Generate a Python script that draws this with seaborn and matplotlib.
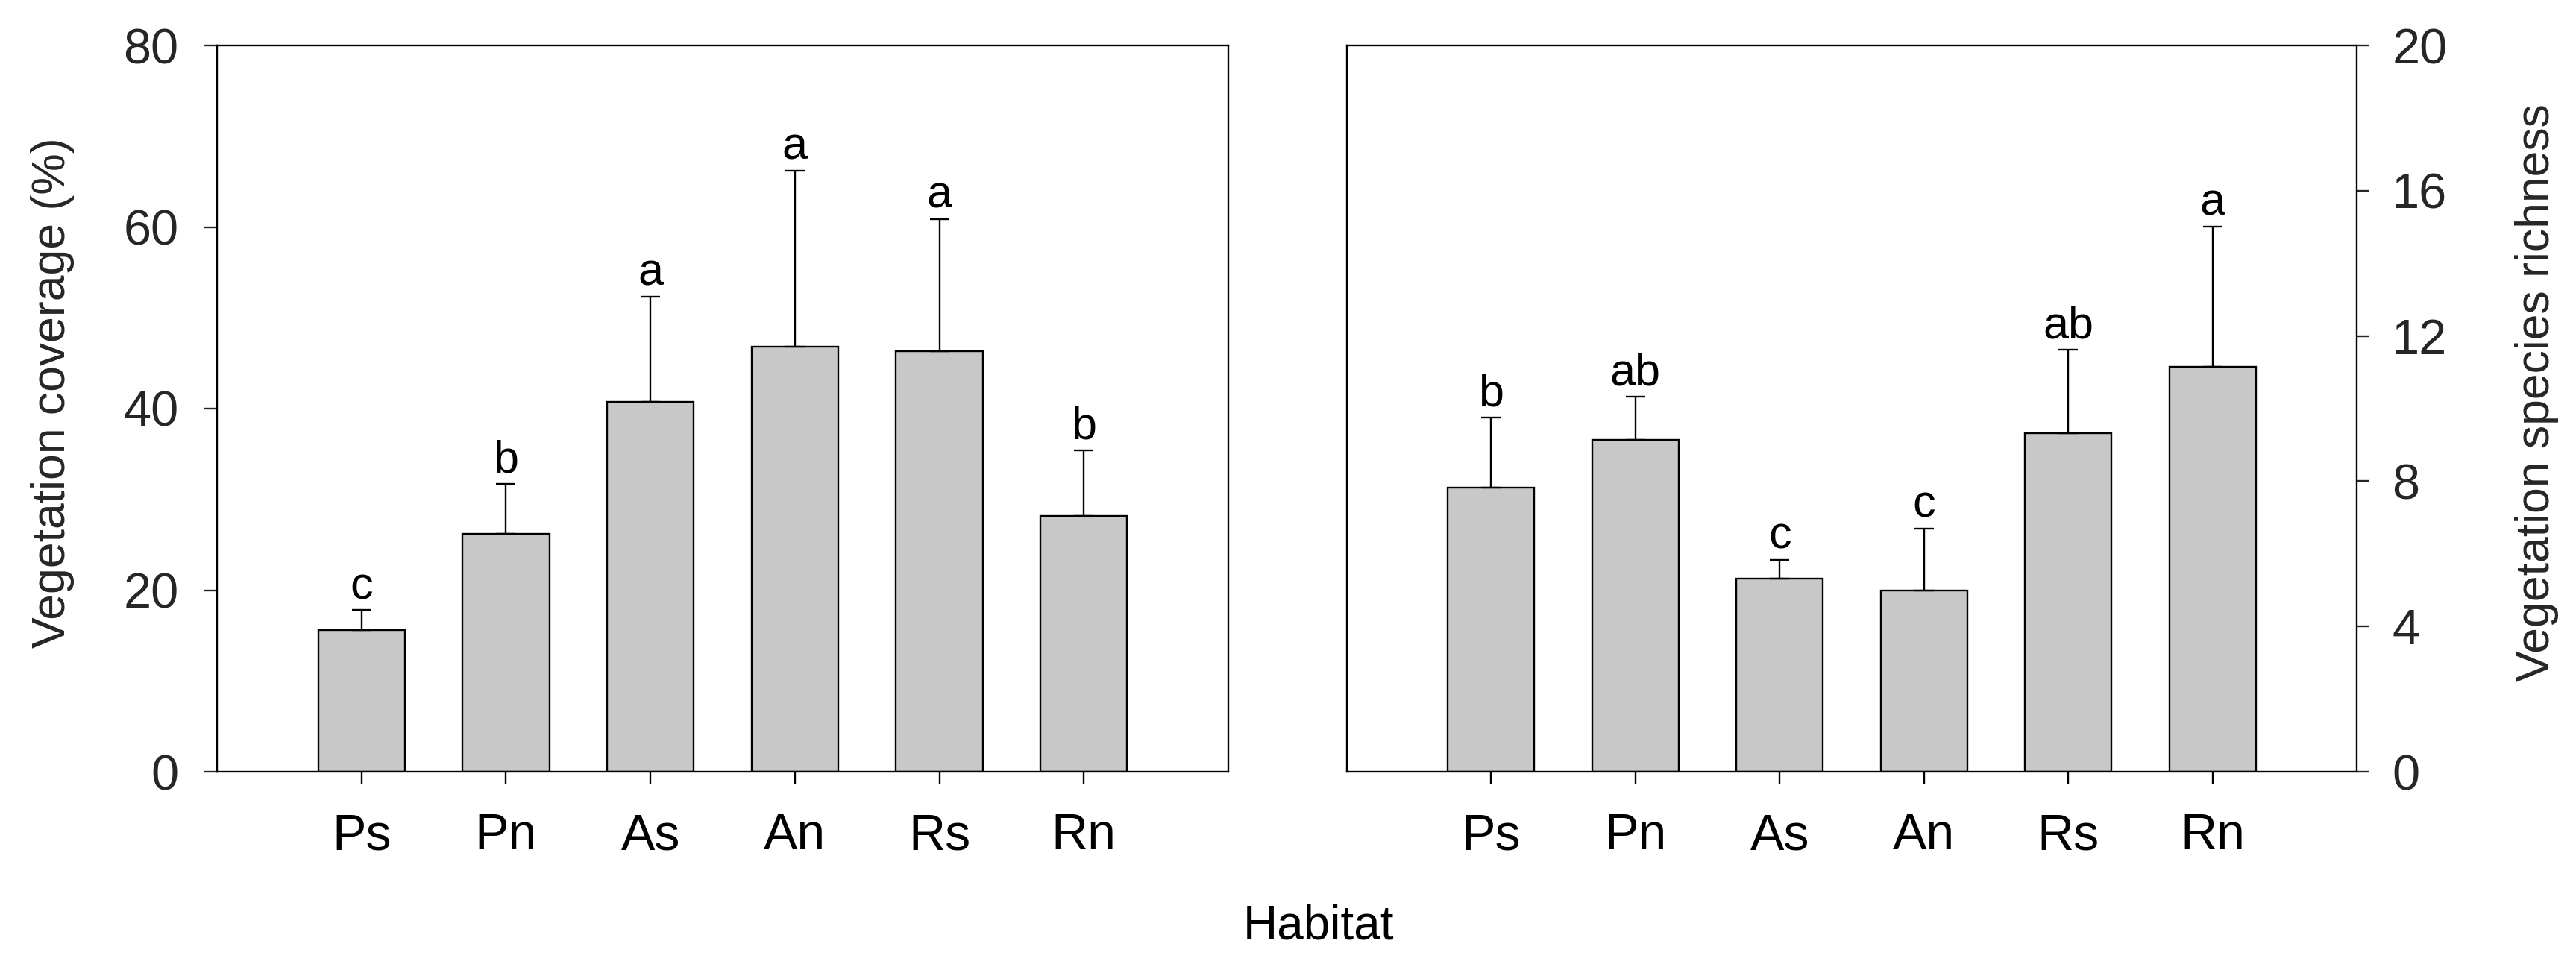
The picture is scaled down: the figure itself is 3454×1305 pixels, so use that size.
import matplotlib
matplotlib.use("Agg")
import matplotlib.pyplot as plt
import seaborn as sns
import numpy as np
import pandas as pd

# ---- data ----
habitats = ["Ps", "Pn", "As", "An", "Rs", "Rn"]
coverage_mean = [15.6, 26.2, 40.7, 46.8, 46.3, 28.2]
coverage_se = [2.2, 5.5, 11.6, 19.4, 14.6, 7.2]
coverage_letters = ["c", "b", "a", "a", "a", "b"]
richness_mean = [7.83, 9.14, 5.32, 5.0, 9.33, 11.15]
richness_se = [1.92, 1.19, 0.51, 1.70, 2.30, 3.87]
richness_letters = ["b", "ab", "c", "c", "ab", "a"]
coverage_ticks = [0, 20, 40, 60, 80]
richness_ticks = [0, 4, 8, 12, 16, 20]

sns.set_theme(style="ticks")
plt.rcParams["font.family"] = ["Liberation Sans", "DejaVu Sans"]

W, H = 3454, 1305
fig = plt.figure(figsize=(W / 100, H / 100), dpi=100)

ax1 = fig.add_axes([291 / W, (H - 1035) / H, (1647 - 291) / W, 974 / H])
ax2 = fig.add_axes([1806 / W, (H - 1035) / H, (3160 - 1806) / W, 974 / H])

LW = 1.7
BAR_COLOR = "#c8c8c8"


def draw(ax, means, ses, letters, ticks, ymax):
    df = pd.DataFrame({"Habitat": habitats, "value": means})
    sns.barplot(data=df, x="Habitat", y="value", color=BAR_COLOR, width=0.6,
                edgecolor="black", linewidth=LW, errorbar=None, ax=ax,
                saturation=1)
    xs = np.arange(len(habitats))
    ax.errorbar(xs, means, yerr=[np.zeros(len(ses)), ses], fmt="none",
                ecolor="black", elinewidth=LW, capsize=9.5, capthick=LW,
                zorder=1)
    for x, m, s, lab in zip(xs, means, ses, letters):
        ax.annotate(lab, xy=(x, m + s), xytext=(0, 11), textcoords="offset points",
                    ha="center", va="baseline", fontsize=44, color="black")
    ax.set_xlim(-1, 6)
    ax.set_ylim(0, ymax)
    ax.set_yticks(ticks)
    ax.set_xlabel("")
    for sp in ax.spines.values():
        sp.set_visible(True)
        sp.set_linewidth(LW)
        sp.set_color("black")
    ax.tick_params(axis="x", direction="out", length=12, width=LW,
                   labelsize=49, pad=27, colors="black")
    ax.set_facecolor("white")


draw(ax1, coverage_mean, coverage_se, coverage_letters, coverage_ticks, 80)
draw(ax2, richness_mean, richness_se, richness_letters, richness_ticks, 20)

ax1.tick_params(axis="y", direction="out", length=12, width=LW,
                labelsize=48, pad=25, left=True, right=False)
ax1.set_ylabel("Vegetation coverage (%)", fontsize=45)
ax1.yaxis.set_label_coords(-0.141, 0.522)

ax2.yaxis.tick_right()
ax2.yaxis.set_label_position("right")
ax2.tick_params(axis="y", direction="out", length=12, width=LW,
                labelsize=48, pad=22, left=False, right=True)
ax2.set_ylabel("Vegetation species richness", fontsize=45)
ax2.yaxis.set_label_coords(1.1566, 0.522)

fig.text(1768 / W, (H - 1260) / H, "Habitat", ha="center", va="baseline",
         fontsize=46, color="black")

fig.savefig("out.png", dpi=100, facecolor="white")
